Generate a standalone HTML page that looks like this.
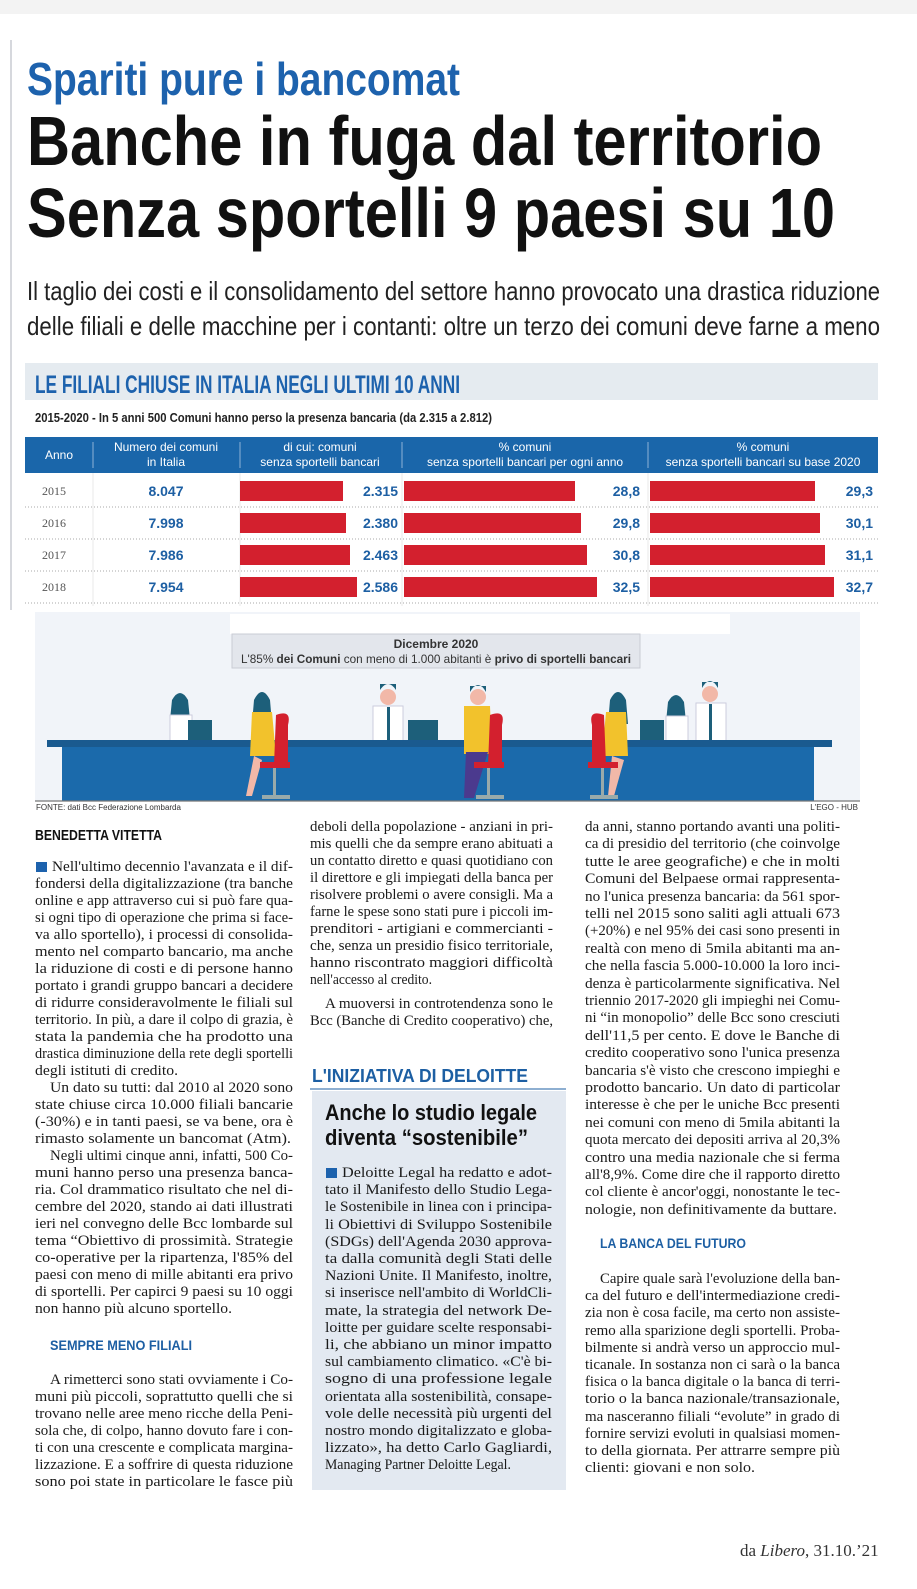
<!DOCTYPE html>
<html><head><meta charset="utf-8"><style>
html,body{margin:0;padding:0;background:#fff;}
svg{display:block;}
.hd{font-family:"Liberation Sans Narrow","Liberation Sans",sans-serif;font-weight:bold;}
.b{font-family:"Liberation Serif",serif;font-size:14.5px;fill:#1a1a1a;}
.th{font-family:"Liberation Sans Narrow","Liberation Sans",sans-serif;font-size:12px;fill:#fff;}
.yr{font-family:"Liberation Serif",serif;font-size:12px;fill:#555;}
.nv{font-family:"Liberation Sans Narrow","Liberation Sans",sans-serif;font-weight:bold;font-size:14px;fill:#1d5fa3;}
.sec{font-family:"Liberation Sans Narrow","Liberation Sans",sans-serif;font-weight:bold;font-size:14px;fill:#1d5fa3;}
</style></head><body>
<svg width="917" height="1589" viewBox="0 0 917 1589" xmlns="http://www.w3.org/2000/svg">
<rect x="0" y="0" width="917" height="14" fill="#f3f3f3"/>
<line x1="11" y1="40" x2="11" y2="610" stroke="#c9ccd2" stroke-width="1.5"/>
<!-- Headlines -->
<text class="hd" x="27" y="95" font-size="46" fill="#1d62ad" textLength="433" lengthAdjust="spacingAndGlyphs">Spariti pure i bancomat</text>
<text class="hd" x="27" y="165" font-size="70" fill="#111" textLength="795" lengthAdjust="spacingAndGlyphs">Banche in fuga dal territorio</text>
<text class="hd" x="27" y="237" font-size="70" fill="#111" textLength="808" lengthAdjust="spacingAndGlyphs">Senza sportelli 9 paesi su 10</text>
<text x="27" y="300" font-family="Liberation Sans Narrow,Liberation Sans,sans-serif" font-size="26" fill="#222" textLength="853" lengthAdjust="spacingAndGlyphs">Il taglio dei costi e il consolidamento del settore hanno provocato una drastica riduzione</text>
<text x="27" y="335" font-family="Liberation Sans Narrow,Liberation Sans,sans-serif" font-size="26" fill="#222" textLength="853" lengthAdjust="spacingAndGlyphs">delle filiali e delle macchine per i contanti: oltre un terzo dei comuni deve farne a meno</text>
<!-- Chart title -->
<rect x="25" y="363" width="853" height="37" fill="#e5ebf0"/>
<text class="hd" x="35" y="393" font-size="25" fill="#1d62ad" textLength="425" lengthAdjust="spacingAndGlyphs">LE FILIALI CHIUSE IN ITALIA NEGLI ULTIMI 10 ANNI</text>
<text x="35" y="422" font-family="Liberation Sans Narrow,Liberation Sans,sans-serif" font-weight="bold" font-size="13" fill="#222" textLength="457" lengthAdjust="spacingAndGlyphs">2015-2020 - In 5 anni 500 Comuni hanno perso la presenza bancaria (da 2.315 a 2.812)</text>
<!-- Table header -->
<rect x="25" y="437" width="853" height="36" fill="#1a66aa"/>
<g stroke="#8fb3d6" stroke-width="1"><line x1="93" y1="442" x2="93" y2="468"/><line x1="240" y1="442" x2="240" y2="468"/><line x1="402" y1="442" x2="402" y2="468"/><line x1="648" y1="442" x2="648" y2="468"/></g>
<text class="th" x="59" y="459" text-anchor="middle">Anno</text>
<text class="th" x="166" y="451" text-anchor="middle" fill="#cfe0f0">Numero dei comuni</text>
<text class="th" x="166" y="466" text-anchor="middle" fill="#cfe0f0">in Italia</text>
<text class="th" x="320" y="451" text-anchor="middle">di cui: comuni</text>
<text class="th" x="320" y="466" text-anchor="middle">senza sportelli bancari</text>
<text class="th" x="525" y="451" text-anchor="middle">% comuni</text>
<text class="th" x="525" y="466" text-anchor="middle">senza sportelli bancari per ogni anno</text>
<text class="th" x="763" y="451" text-anchor="middle">% comuni</text>
<text class="th" x="763" y="466" text-anchor="middle">senza sportelli bancari su base 2020</text>
<g stroke="#e8e8e8"><line x1="93" y1="473" x2="93" y2="606"/><line x1="240" y1="473" x2="240" y2="606"/><line x1="402" y1="473" x2="402" y2="606"/><line x1="648" y1="473" x2="648" y2="606"/></g>
<g stroke="#aaa" stroke-dasharray="1,2"><line x1="25" y1="507" x2="878" y2="507"/><line x1="25" y1="539" x2="878" y2="539"/><line x1="25" y1="571" x2="878" y2="571"/><line x1="25" y1="603" x2="878" y2="603"/></g>
<g fill="#d3202e">
<rect x="240" y="481" width="103" height="20"/><rect x="404" y="481" width="171" height="20"/><rect x="650" y="481" width="165" height="20"/>
<rect x="240" y="513" width="106" height="20"/><rect x="404" y="513" width="177" height="20"/><rect x="650" y="513" width="170" height="20"/>
<rect x="240" y="545" width="110" height="20"/><rect x="404" y="545" width="183" height="20"/><rect x="650" y="545" width="175" height="20"/>
<rect x="240" y="577" width="117" height="20"/><rect x="404" y="577" width="193" height="20"/><rect x="650" y="577" width="184" height="20"/>
</g>
<text class="yr" x="42" y="495">2015</text><text class="yr" x="42" y="527">2016</text><text class="yr" x="42" y="559">2017</text><text class="yr" x="42" y="591">2018</text>
<g class="nv" text-anchor="middle"><text x="166" y="496">8.047</text><text x="166" y="528">7.998</text><text x="166" y="560">7.986</text><text x="166" y="592">7.954</text></g>
<g class="nv" text-anchor="end">
<text x="398" y="496">2.315</text><text x="640" y="496">28,8</text><text x="873" y="496">29,3</text>
<text x="398" y="528">2.380</text><text x="640" y="528">29,8</text><text x="873" y="528">30,1</text>
<text x="398" y="560">2.463</text><text x="640" y="560">30,8</text><text x="873" y="560">31,1</text>
<text x="398" y="592">2.586</text><text x="640" y="592">32,5</text><text x="873" y="592">32,7</text>
</g>
<!-- Illustration -->
<rect x="35" y="612" width="825" height="189" fill="#f1f4f9"/>
<rect x="230" y="614" width="500" height="20" fill="#fff"/>
<rect x="232" y="634" width="408" height="34" fill="#e3e6ec" stroke="#c9ccd4"/>
<text x="436" y="648" text-anchor="middle" font-family="Liberation Sans Narrow,Liberation Sans,sans-serif" font-weight="bold" font-size="12" fill="#333">Dicembre 2020</text>
<text x="436" y="663" text-anchor="middle" font-family="Liberation Sans Narrow,Liberation Sans,sans-serif" font-size="12" fill="#333" textLength="390" lengthAdjust="spacingAndGlyphs">L'85% <tspan font-weight="bold">dei Comuni</tspan> con meno di 1.000 abitanti è <tspan font-weight="bold">privo di sportelli bancari</tspan></text>
<!-- people behind desk -->
<g>
<circle cx="180" cy="706" r="7" fill="#f2b8a8"/><path d="M172 700 q8-14 16 0 l2 20 h-20z" fill="#1d5f7a"/><rect x="170" y="715" width="22" height="28" fill="#fff" stroke="#ccd"/>
<rect x="188" y="720" width="24" height="20" fill="#1d5f7a"/>
<circle cx="388" cy="697" r="8" fill="#f2b8a8"/><path d="M380 690 q8-12 16 0 v-6 h-16z" fill="#1d5f7a"/><rect x="373" y="706" width="30" height="37" fill="#fff" stroke="#ccd"/><rect x="387" y="707" width="3" height="34" fill="#1d5f7a"/>
<rect x="408" y="720" width="30" height="21" fill="#1d5f7a"/>
<circle cx="676" cy="708" r="7" fill="#f2b8a8"/><path d="M668 702 q8-14 16 0 l2 20 h-20z" fill="#1d5f7a"/><rect x="666" y="716" width="22" height="27" fill="#fff" stroke="#ccd"/>
<rect x="640" y="720" width="24" height="20" fill="#1d5f7a"/>
<circle cx="710" cy="694" r="8" fill="#f2b8a8"/><path d="M702 688 q8-14 16 0 v-6 h-16z" fill="#1d5f7a"/><rect x="696" y="703" width="30" height="40" fill="#fff" stroke="#ccd"/><rect x="709" y="704" width="3" height="36" fill="#1d5f7a"/>
</g>
<!-- desk -->
<rect x="47" y="740" width="785" height="7" fill="#1a5a8f"/>
<rect x="62" y="747" width="752" height="54" fill="#1b6aab"/>
<!-- customers -->
<g>
<circle cx="262" cy="705" r="7" fill="#f2b8a8"/><path d="M254 700 q8-16 16 0 l2 24 h-20z" fill="#1d5f7a"/><path d="M252 712 h20 l4 44 h-26z" fill="#f2c22c"/><path d="M254 756 l-8 40 h6 l10-36z" fill="#f2b8a8"/>
<path d="M276 715 q16-6 12 10 v40 h-14z" fill="#d3202e"/><rect x="260" y="762" width="30" height="6" fill="#d3202e"/><rect x="273" y="768" width="3" height="28" fill="#9aa"/><rect x="262" y="795" width="28" height="4" fill="#9aa"/>
<circle cx="478" cy="697" r="8" fill="#f2b8a8"/><path d="M470 692 q8-14 16 0 v-6 h-16z" fill="#1d5f7a"/><path d="M464 706 h26 l2 48 h-28z" fill="#f2c22c"/><path d="M466 752 h22 l-14 46 h-10z" fill="#4b3a8e"/>
<path d="M490 715 q16-6 12 10 v40 h-14z" fill="#d3202e"/><rect x="474" y="762" width="30" height="6" fill="#d3202e"/><rect x="487" y="768" width="3" height="28" fill="#9aa"/><rect x="476" y="795" width="28" height="4" fill="#9aa"/>
<circle cx="618" cy="705" r="7" fill="#f2b8a8"/><path d="M610 700 q8-16 16 0 l2 24 h-20z" fill="#1d5f7a"/><path d="M606 712 h20 l2 44 h-26z" fill="#f2c22c"/><path d="M612 756 l-4 40 h6 l10-36z" fill="#f2b8a8"/>
<path d="M604 715 q-16-6 -12 10 v40 h14z" fill="#d3202e"/><rect x="588" y="762" width="30" height="6" fill="#d3202e"/><rect x="601" y="768" width="3" height="28" fill="#9aa"/><rect x="590" y="795" width="28" height="4" fill="#9aa"/>
</g>
<line x1="35" y1="801" x2="860" y2="801" stroke="#777" stroke-width="1.2"/>
<text x="36" y="810" font-family="Liberation Sans Narrow,Liberation Sans,sans-serif" font-size="8" fill="#333">FONTE: dati Bcc Federazione Lombarda</text>
<text x="858" y="810" text-anchor="end" font-family="Liberation Sans Narrow,Liberation Sans,sans-serif" font-size="8" fill="#333">L'EGO - HUB</text>
<!-- Column 1 -->
<text class="hd" x="35" y="840" font-size="14.5" fill="#111" textLength="127" lengthAdjust="spacingAndGlyphs">BENEDETTA VITETTA</text>
<rect x="36" y="862" width="11" height="10" fill="#1d62ad"/>
<g class="b" lengthAdjust="spacingAndGlyphs">
<text x="52" y="871" textLength="241" lengthAdjust="spacingAndGlyphs">Nell'ultimo decennio l'avanzata e il dif-</text>
<text x="35" y="888" textLength="258" lengthAdjust="spacingAndGlyphs">fondersi della digitalizzazione (tra banche</text>
<text x="35" y="905" textLength="258" lengthAdjust="spacingAndGlyphs">online e app attraverso cui si può fare qua-</text>
<text x="35" y="922" textLength="258" lengthAdjust="spacingAndGlyphs">si ogni tipo di operazione che prima si face-</text>
<text x="35" y="939" textLength="258" lengthAdjust="spacingAndGlyphs">va allo sportello), i processi di consolida-</text>
<text x="35" y="956" textLength="258" lengthAdjust="spacingAndGlyphs">mento nel comparto bancario, ma anche</text>
<text x="35" y="973" textLength="258" lengthAdjust="spacingAndGlyphs">la riduzione di costi e di persone hanno</text>
<text x="35" y="990" textLength="258" lengthAdjust="spacingAndGlyphs">portato i grandi gruppo bancari a decidere</text>
<text x="35" y="1007" textLength="258" lengthAdjust="spacingAndGlyphs">di ridurre consideravolmente le filiali sul</text>
<text x="35" y="1024" textLength="258" lengthAdjust="spacingAndGlyphs">territorio. In più, a dare il colpo di grazia, è</text>
<text x="35" y="1041" textLength="258" lengthAdjust="spacingAndGlyphs">stata la pandemia che ha prodotto una</text>
<text x="35" y="1058" textLength="258" lengthAdjust="spacingAndGlyphs">drastica diminuzione della rete degli sportelli</text>
<text x="35" y="1075" textLength="143" lengthAdjust="spacingAndGlyphs">degli istituti di credito.</text>
<text x="50" y="1092" textLength="243" lengthAdjust="spacingAndGlyphs">Un dato su tutti: dal 2010 al 2020 sono</text>
<text x="35" y="1109" textLength="258" lengthAdjust="spacingAndGlyphs">state chiuse circa 10.000 filiali bancarie</text>
<text x="35" y="1126" textLength="258" lengthAdjust="spacingAndGlyphs">(-30%) e in tanti paesi, se va bene, ora è</text>
<text x="35" y="1143" textLength="256" lengthAdjust="spacingAndGlyphs">rimasto solamente un bancomat (Atm).</text>
<text x="50" y="1160" textLength="243" lengthAdjust="spacingAndGlyphs">Negli ultimi cinque anni, infatti, 500 Co-</text>
<text x="35" y="1177" textLength="258" lengthAdjust="spacingAndGlyphs">muni hanno perso una presenza banca-</text>
<text x="35" y="1194" textLength="258" lengthAdjust="spacingAndGlyphs">ria. Col drammatico risultato che nel di-</text>
<text x="35" y="1211" textLength="258" lengthAdjust="spacingAndGlyphs">cembre del 2020, stando ai dati illustrati</text>
<text x="35" y="1228" textLength="258" lengthAdjust="spacingAndGlyphs">ieri nel convegno delle Bcc lombarde sul</text>
<text x="35" y="1245" textLength="258" lengthAdjust="spacingAndGlyphs">tema “Obiettivo di prossimità. Strategie</text>
<text x="35" y="1262" textLength="258" lengthAdjust="spacingAndGlyphs">co-operative per la ripartenza, l'85% del</text>
<text x="35" y="1279" textLength="258" lengthAdjust="spacingAndGlyphs">paesi con meno di mille abitanti era privo</text>
<text x="35" y="1296" textLength="258" lengthAdjust="spacingAndGlyphs">di sportelli. Per capirci 9 paesi su 10 oggi</text>
<text x="35" y="1313" textLength="197" lengthAdjust="spacingAndGlyphs">non hanno più alcuno sportello.</text>
</g>
<text class="sec" x="50" y="1350" textLength="142" lengthAdjust="spacingAndGlyphs">SEMPRE MENO FILIALI</text>
<g class="b">
<text x="50" y="1384" textLength="243" lengthAdjust="spacingAndGlyphs">A rimetterci sono stati ovviamente i Co-</text>
<text x="35" y="1401" textLength="258" lengthAdjust="spacingAndGlyphs">muni più piccoli, soprattutto quelli che si</text>
<text x="35" y="1418" textLength="258" lengthAdjust="spacingAndGlyphs">trovano nelle aree meno ricche della Peni-</text>
<text x="35" y="1435" textLength="258" lengthAdjust="spacingAndGlyphs">sola che, di colpo, hanno dovuto fare i con-</text>
<text x="35" y="1452" textLength="258" lengthAdjust="spacingAndGlyphs">ti con una crescente e complicata margina-</text>
<text x="35" y="1469" textLength="258" lengthAdjust="spacingAndGlyphs">lizzazione. E a soffrire di questa riduzione</text>
<text x="35" y="1486" textLength="258" lengthAdjust="spacingAndGlyphs">sono poi state in particolare le fasce più</text>
</g>
<!-- Column 2 -->
<g class="b">
<text x="310" y="831" textLength="243" lengthAdjust="spacingAndGlyphs">deboli della popolazione - anziani in pri-</text>
<text x="310" y="848" textLength="243" lengthAdjust="spacingAndGlyphs">mis quelli che da sempre erano abituati a</text>
<text x="310" y="865" textLength="243" lengthAdjust="spacingAndGlyphs">un contatto diretto e quasi quotidiano con</text>
<text x="310" y="882" textLength="243" lengthAdjust="spacingAndGlyphs">il direttore e gli impiegati della banca per</text>
<text x="310" y="899" textLength="243" lengthAdjust="spacingAndGlyphs">risolvere problemi o avere consigli. Ma a</text>
<text x="310" y="916" textLength="243" lengthAdjust="spacingAndGlyphs">farne le spese sono stati pure i piccoli im-</text>
<text x="310" y="933" textLength="243" lengthAdjust="spacingAndGlyphs">prenditori - artigiani e commercianti -</text>
<text x="310" y="950" textLength="243" lengthAdjust="spacingAndGlyphs">che, senza un presidio fisico territoriale,</text>
<text x="310" y="967" textLength="243" lengthAdjust="spacingAndGlyphs">hanno riscontrato maggiori difficoltà</text>
<text x="310" y="984" textLength="122" lengthAdjust="spacingAndGlyphs">nell'accesso al credito.</text>
<text x="325" y="1008" textLength="228" lengthAdjust="spacingAndGlyphs">A muoversi in controtendenza sono le</text>
<text x="310" y="1025" textLength="243" lengthAdjust="spacingAndGlyphs">Bcc (Banche di Credito cooperativo) che,</text>
</g>
<text class="hd" x="312" y="1082" font-size="18" fill="#1d5fa3" textLength="216" lengthAdjust="spacingAndGlyphs">L'INIZIATIVA DI DELOITTE</text>
<line x1="310" y1="1089" x2="566" y2="1089" stroke="#1d5fa3" stroke-width="1"/>
<rect x="312" y="1091" width="254" height="399" fill="#e3e9f1"/>
<text class="hd" x="325" y="1120" font-size="22" fill="#111" textLength="212" lengthAdjust="spacingAndGlyphs">Anche lo studio legale</text>
<text class="hd" x="325" y="1145" font-size="22" fill="#111" textLength="203" lengthAdjust="spacingAndGlyphs">diventa “sostenibile”</text>
<rect x="326" y="1168" width="11" height="10" fill="#1d62ad"/>
<g class="b">
<text x="342" y="1177" textLength="210" lengthAdjust="spacingAndGlyphs">Deloitte Legal ha redatto e adot-</text>
<text x="325" y="1194" textLength="227" lengthAdjust="spacingAndGlyphs">tato il Manifesto dello Studio Lega-</text>
<text x="325" y="1211" textLength="227" lengthAdjust="spacingAndGlyphs">le Sostenibile in linea con i principa-</text>
<text x="325" y="1229" textLength="227" lengthAdjust="spacingAndGlyphs">li Obiettivi di Sviluppo Sostenibile</text>
<text x="325" y="1246" textLength="227" lengthAdjust="spacingAndGlyphs">(SDGs) dell'Agenda 2030 approva-</text>
<text x="325" y="1263" textLength="227" lengthAdjust="spacingAndGlyphs">ta dalla comunità degli Stati delle</text>
<text x="325" y="1280" textLength="227" lengthAdjust="spacingAndGlyphs">Nazioni Unite. Il Manifesto, inoltre,</text>
<text x="325" y="1297" textLength="227" lengthAdjust="spacingAndGlyphs">si inserisce nell'ambito di WorldCli-</text>
<text x="325" y="1315" textLength="227" lengthAdjust="spacingAndGlyphs">mate, la strategia del network De-</text>
<text x="325" y="1332" textLength="227" lengthAdjust="spacingAndGlyphs">loitte per guidare scelte responsabi-</text>
<text x="325" y="1349" textLength="227" lengthAdjust="spacingAndGlyphs">li, che abbiano un minor impatto</text>
<text x="325" y="1366" textLength="227" lengthAdjust="spacingAndGlyphs">sul cambiamento climatico. «C'è bi-</text>
<text x="325" y="1383" textLength="227" lengthAdjust="spacingAndGlyphs">sogno di una professione legale</text>
<text x="325" y="1401" textLength="227" lengthAdjust="spacingAndGlyphs">orientata alla sostenibilità, consape-</text>
<text x="325" y="1418" textLength="227" lengthAdjust="spacingAndGlyphs">vole delle necessità più urgenti del</text>
<text x="325" y="1435" textLength="227" lengthAdjust="spacingAndGlyphs">nostro mondo digitalizzato e globa-</text>
<text x="325" y="1452" textLength="227" lengthAdjust="spacingAndGlyphs">lizzato», ha detto Carlo Gagliardi,</text>
<text x="325" y="1469" textLength="186" lengthAdjust="spacingAndGlyphs">Managing Partner Deloitte Legal.</text>
</g>
<!-- Column 3 -->
<g class="b">
<text x="585" y="831" textLength="255" lengthAdjust="spacingAndGlyphs">da anni, stanno portando avanti una politi-</text>
<text x="585" y="848" textLength="255" lengthAdjust="spacingAndGlyphs">ca di presidio del territorio (che coinvolge</text>
<text x="585" y="866" textLength="255" lengthAdjust="spacingAndGlyphs">tutte le aree geografiche) e che in molti</text>
<text x="585" y="883" textLength="255" lengthAdjust="spacingAndGlyphs">Comuni del Belpaese ormai rappresenta-</text>
<text x="585" y="901" textLength="255" lengthAdjust="spacingAndGlyphs">no l'unica presenza bancaria: da 561 spor-</text>
<text x="585" y="918" textLength="255" lengthAdjust="spacingAndGlyphs">telli nel 2015 sono saliti agli attuali 673</text>
<text x="585" y="935" textLength="255" lengthAdjust="spacingAndGlyphs">(+20%) e nel 95% dei casi sono presenti in</text>
<text x="585" y="953" textLength="255" lengthAdjust="spacingAndGlyphs">realtà con meno di 5mila abitanti ma an-</text>
<text x="585" y="970" textLength="255" lengthAdjust="spacingAndGlyphs">che nella fascia 5.000-10.000 la loro inci-</text>
<text x="585" y="988" textLength="255" lengthAdjust="spacingAndGlyphs">denza è particolarmente significativa. Nel</text>
<text x="585" y="1005" textLength="255" lengthAdjust="spacingAndGlyphs">triennio 2017-2020 gli impieghi nei Comu-</text>
<text x="585" y="1022" textLength="255" lengthAdjust="spacingAndGlyphs">ni “in monopolio” delle Bcc sono cresciuti</text>
<text x="585" y="1040" textLength="255" lengthAdjust="spacingAndGlyphs">dell'11,5 per cento. E dove le Banche di</text>
<text x="585" y="1057" textLength="255" lengthAdjust="spacingAndGlyphs">credito cooperativo sono l'unica presenza</text>
<text x="585" y="1075" textLength="255" lengthAdjust="spacingAndGlyphs">bancaria s'è visto che crescono impieghi e</text>
<text x="585" y="1092" textLength="255" lengthAdjust="spacingAndGlyphs">prodotto bancario. Un dato di particolar</text>
<text x="585" y="1109" textLength="255" lengthAdjust="spacingAndGlyphs">interesse è che per le uniche Bcc presenti</text>
<text x="585" y="1127" textLength="255" lengthAdjust="spacingAndGlyphs">nei comuni con meno di 5mila abitanti la</text>
<text x="585" y="1144" textLength="255" lengthAdjust="spacingAndGlyphs">quota mercato dei depositi arriva al 20,3%</text>
<text x="585" y="1162" textLength="255" lengthAdjust="spacingAndGlyphs">contro una media nazionale che si ferma</text>
<text x="585" y="1179" textLength="255" lengthAdjust="spacingAndGlyphs">all'8,9%. Come dire che il rapporto diretto</text>
<text x="585" y="1196" textLength="255" lengthAdjust="spacingAndGlyphs">col cliente è ancor'oggi, nonostante le tec-</text>
<text x="585" y="1214" textLength="252" lengthAdjust="spacingAndGlyphs">nologie, non definitivamente da buttare.</text>
</g>
<text class="sec" x="600" y="1248" textLength="146" lengthAdjust="spacingAndGlyphs">LA BANCA DEL FUTURO</text>
<g class="b">
<text x="600" y="1283" textLength="240" lengthAdjust="spacingAndGlyphs">Capire quale sarà l'evoluzione della ban-</text>
<text x="585" y="1300" textLength="255" lengthAdjust="spacingAndGlyphs">ca del futuro e dell'intermediazione credi-</text>
<text x="585" y="1317" textLength="255" lengthAdjust="spacingAndGlyphs">zia non è cosa facile, ma certo non assiste-</text>
<text x="585" y="1335" textLength="255" lengthAdjust="spacingAndGlyphs">remo alla sparizione degli sportelli. Proba-</text>
<text x="585" y="1352" textLength="255" lengthAdjust="spacingAndGlyphs">bilmente si andrà verso un approccio mul-</text>
<text x="585" y="1369" textLength="255" lengthAdjust="spacingAndGlyphs">ticanale. In sostanza non ci sarà o la banca</text>
<text x="585" y="1386" textLength="255" lengthAdjust="spacingAndGlyphs">fisica o la banca digitale o la banca di terri-</text>
<text x="585" y="1403" textLength="255" lengthAdjust="spacingAndGlyphs">torio o la banca nazionale/transazionale,</text>
<text x="585" y="1421" textLength="255" lengthAdjust="spacingAndGlyphs">ma nasceranno filiali “evolute” in grado di</text>
<text x="585" y="1438" textLength="255" lengthAdjust="spacingAndGlyphs">fornire servizi evoluti in qualsiasi momen-</text>
<text x="585" y="1455" textLength="255" lengthAdjust="spacingAndGlyphs">to della giornata. Per attrarre sempre più</text>
<text x="585" y="1472" textLength="170" lengthAdjust="spacingAndGlyphs">clienti: giovani e non solo.</text>
</g>
<text x="740" y="1556" font-family="Liberation Serif,serif" font-size="17" fill="#333">da <tspan font-style="italic">Libero</tspan>, 31.10.’21</text>
</svg>
</body></html>
